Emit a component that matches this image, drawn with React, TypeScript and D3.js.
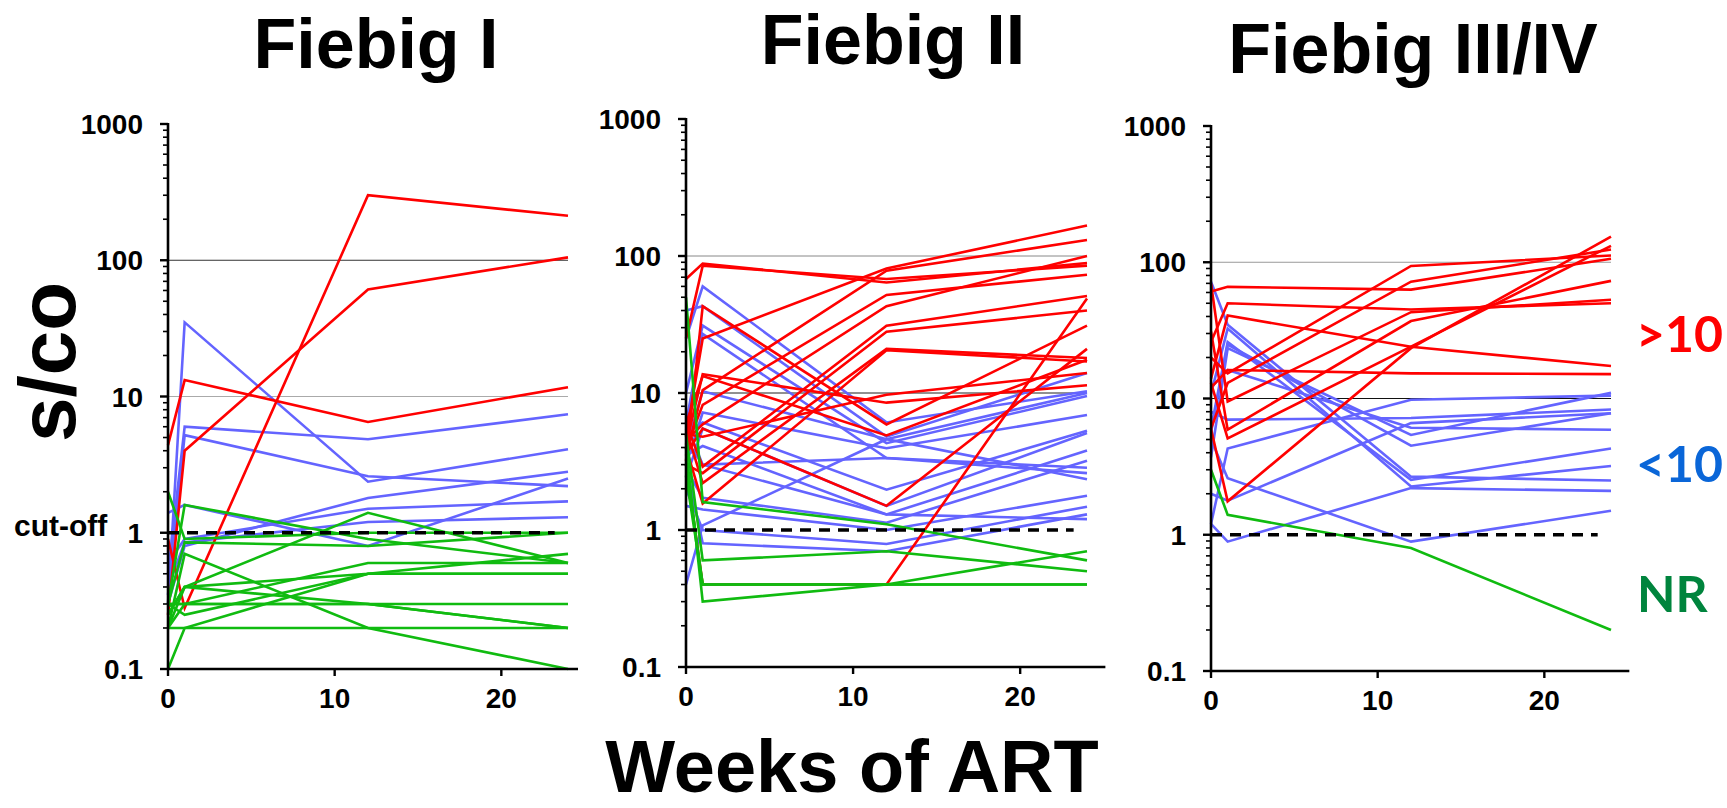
import React from "react";
import * as d3 from "d3";

// Sampling weeks after ART start
const WEEKS = [0, 1, 12, 24];

// Fiebig I: s/co per participant at weeks 0, 1, 12, 24
const fiebigIRed = [
  [0.9, 0.28, 300, 212],
  [0.25, 4.0, 61, 105],
  [4.4, 13.2, 6.5, 11.7],
];
const fiebigIBlue = [
  [0.3, 35, 2.37, 4.1],
  [0.5, 6.0, 4.85, 7.4],
  [0.35, 5.2, 2.6, 2.2],
  [1.4, 1.6, 0.8, 2.5],
  [0.3, 0.8, 1.8, 2.8],
  [0.6, 0.9, 1.5, 1.7],
  [0.4, 0.85, 1.2, 1.3],
];
const fiebigIGreen = [
  [2.0, 0.9, 1.0, 1.0],
  [0.3, 1.6, 0.9, 0.6],
  [0.25, 0.4, 1.4, 0.6],
  [0.3, 0.85, 0.8, 1.0],
  [0.2, 0.7, 0.2, 0.1],
  [0.2, 0.4, 0.5, 0.7],
  [0.3, 0.3, 0.6, 0.6],
  [0.25, 0.4, 0.3, 0.2],
  [0.2, 0.3, 0.3, 0.3],
  [0.1, 0.2, 0.5, 0.5],
  [0.3, 0.3, 0.3, 0.2],
  [0.2, 0.2, 0.2, 0.2],
  [0.3, 0.25, 0.5, 0.5],
];

// Fiebig II
const fiebigIIRed = [
  [68, 88, 64, 89],
  [25, 85, 68, 85],
  [4.8, 25, 81, 167],
  [3.5, 10.5, 78, 131],
  [3.9, 8.2, 52, 73],
  [4.5, 5.9, 43, 100],
  [6, 2.9, 31, 51],
  [3.0, 2.6, 28, 40],
  [5.5, 2.2, 21, 18],
  [4, 1.56, 20.5, 17],
  [3.2, 43, 5.9, 31],
  [6, 13.3, 4.9, 17.5],
  [5, 4.8, 9.7, 14],
  [4.2, 13.7, 8.5, 11.4],
  [3.6, 5.5, 1.5, 21],
  [3, 0.4, 0.4, 49],
];
const fiebigIIBlue = [
  [25, 60, 6.1, 10.3],
  [40, 43, 4.8, 14],
  [10, 31, 4.3, 9.5],
  [6, 27, 3.35, 2.6],
  [4, 10.3, 4.6, 10],
  [3, 7.2, 3.95, 6.9],
  [5, 6.1, 1.97, 5.3],
  [2.4, 5.5, 1.5, 5.1],
  [3.5, 4.1, 1.3, 3.8],
  [6, 3.0, 3.35, 2.85],
  [2.8, 1.72, 1.13, 3.2],
  [0.4, 1.08, 4.6, 2.35],
  [1.5, 1.41, 1.0, 1.78],
  [2, 1.0, 0.79, 1.48],
  [3, 0.8, 0.7, 1.3],
  [4.5, 3.0, 1.3, 1.2],
];
const fiebigIIGreen = [
  [50, 1.6, 1.1, 0.6],
  [5, 0.6, 0.7, 0.5],
  [3, 0.4, 0.4, 0.4],
  [4, 0.3, 0.4, 0.7],
  [2.5, 0.4, 0.4, 0.4],
];

// Fiebig III/IV
const fiebigIIIRed = [
  [61, 66, 63, 106],
  [26, 50, 45, 50],
  [14, 40.6, 24, 17.3],
  [12, 16.2, 15.3, 15.1],
  [20, 15.3, 94, 112],
  [6, 13, 72, 124],
  [70, 9.5, 43, 53],
  [31, 5.9, 37, 73],
  [13, 5.1, 24, 132],
  [6, 1.76, 23.4, 154],
];
const fiebigIIIBlue = [
  [72, 34.8, 2.67, 2.5],
  [10.8, 32.6, 2.26, 3.2],
  [5.6, 24.9, 4.5, 7.8],
  [3.7, 23.4, 5.4, 11],
  [12, 16.2, 6.1, 5.9],
  [8, 7.0, 7.2, 8.3],
  [1.2, 4.3, 9.8, 10.5],
  [2, 1.78, 6.6, 7.8],
  [5, 2.6, 0.89, 1.5],
  [1.2, 0.89, 2.2, 2.1],
  [6, 26, 2.53, 4.3],
];
const fiebigIIIGreen = [[3.0, 1.4, 0.8, 0.2]];

const PANEL_TITLES = ["Fiebig I", "Fiebig II", "Fiebig III/IV"];
const Y_TICKS = [0.1, 1, 10, 100, 1000];
const Y_TICK_LABELS = ["0.1", "1", "10", "100", "1000"];
const X_TICKS = [0, 10, 20];
const GROUP_LABELS = [">10", "<10", "NR"];

const RED = "#ff0000";
const BLUE = "#6464ff";
const GREEN = "#10bb10";
const FONT = "'Liberation Sans', Arial, sans-serif";

type Panel = {
  title: string;
  red: number[][];
  blue: number[][];
  green: number[][];
  x0: number;
  x24: number;
  axisEnd: number;
  yTop: number;
  yBot: number;
  titleX: number;
  titleY: number;
  grid100: string;
  grid10: string;
};

const panels: Panel[] = [
  {
    title: PANEL_TITLES[0], red: fiebigIRed, blue: fiebigIBlue, green: fiebigIGreen,
    x0: 168, x24: 568, axisEnd: 24.6, yTop: 124, yBot: 669, titleX: 376, titleY: 68,
    grid100: "#333", grid10: "#aaa",
  },
  {
    title: PANEL_TITLES[1], red: fiebigIIRed, blue: fiebigIIBlue, green: fiebigIIGreen,
    x0: 686, x24: 1087, axisEnd: 25.1, yTop: 119, yBot: 667, titleX: 893, titleY: 64,
    grid100: "#888", grid10: "#222",
  },
  {
    title: PANEL_TITLES[2], red: fiebigIIIRed, blue: fiebigIIIBlue, green: fiebigIIIGreen,
    x0: 1211, x24: 1611, axisEnd: 25.1, yTop: 126, yBot: 671, titleX: 1413, titleY: 73,
    grid100: "#999", grid10: "#111",
  },
];

function PanelView({ p }: { p: Panel }) {
  const x = d3.scaleLinear().domain([0, 24]).range([p.x0, p.x24]);
  const y = d3.scaleLog().domain([0.1, 1000]).range([p.yBot, p.yTop]);
  const line = d3
    .line<number>()
    .x((_, i) => x(WEEKS[i]))
    .y((v) => y(v));

  const minor: number[] = [];
  for (let e = -1; e < 3; e++) {
    for (let m = 2; m <= 9; m++) minor.push(m * Math.pow(10, e));
  }

  const series = (rows: number[][], color: string) =>
    rows.map((r, i) => (
      <path key={color + i} d={line(r) || ""} fill="none" stroke={color} strokeWidth={2.6} strokeLinejoin="miter" />
    ));

  return (
    <g>
      <text x={p.titleX} y={p.titleY} textAnchor="middle" fontFamily={FONT} fontWeight="bold" fontSize={70}>
        {p.title}
      </text>
      {/* reference gridlines */}
      <line x1={x(0)} x2={x(24)} y1={y(100)} y2={y(100)} stroke={p.grid100} strokeWidth={1} />
      <line x1={x(0)} x2={x(24)} y1={y(10)} y2={y(10)} stroke={p.grid10} strokeWidth={1} />
      {series(p.blue, BLUE)}
      {series(p.red, RED)}
      {series(p.green, GREEN)}
      {/* cut-off */}
      <line x1={x(0)} x2={x(23.2)} y1={y(1)} y2={y(1)} stroke="#000" strokeWidth={3.5} strokeDasharray="11 8" />
      {/* y axis */}
      <line x1={p.x0} x2={p.x0} y1={p.yTop - 1} y2={p.yBot + 1} stroke="#000" strokeWidth={2.6} />
      {Y_TICKS.map((t, i) => (
        <g key={"yt" + t}>
          <line x1={p.x0 - 8} x2={p.x0} y1={y(t)} y2={y(t)} stroke="#000" strokeWidth={2.4} />
          <text x={p.x0 - 25} y={y(t)} dy="0.36em" textAnchor="end" fontFamily={FONT} fontWeight="bold" fontSize={28}>
            {Y_TICK_LABELS[i]}
          </text>
        </g>
      ))}
      {minor.map((t) => (
        <line key={"ym" + t} x1={p.x0 - 5} x2={p.x0} y1={y(t)} y2={y(t)} stroke="#000" strokeWidth={1.6} />
      ))}
      {/* x axis */}
      <line x1={p.x0 - 1} x2={x(p.axisEnd)} y1={p.yBot} y2={p.yBot} stroke="#000" strokeWidth={2.6} />
      {X_TICKS.map((t) => (
        <g key={"xt" + t}>
          <line x1={x(t)} x2={x(t)} y1={p.yBot} y2={p.yBot + 7} stroke="#000" strokeWidth={2.4} />
          <text x={x(t)} y={p.yBot + 39} textAnchor="middle" fontFamily={FONT} fontWeight="bold" fontSize={28}>
            {t}
          </text>
        </g>
      ))}
    </g>
  );
}

export default function App() {
  return (
    <svg
      width={1727}
      height={808}
      viewBox="0 0 1727 808"
      style={{ position: "absolute", left: 0, top: 0, background: "#fff" }}
    >
      <rect width={1727} height={808} fill="#fff" />
      {panels.map((p) => (
        <PanelView key={p.title} p={p} />
      ))}
      <text
        transform="translate(75,362) rotate(-90)"
        textAnchor="middle"
        fontFamily={FONT}
        fontWeight="bold"
        fontSize={80}
      >
        s/co
      </text>
      <text x={14} y={536} fontFamily={FONT} fontWeight="bold" fontSize={30}>
        cut-off
      </text>
      <text x={852} y={792} textAnchor="middle" fontFamily={FONT} fontWeight="bold" fontSize={74}>
        Weeks of ART
      </text>
      <text x={1636} y={352} fontFamily="Lato, 'Open Sans', sans-serif" fontWeight="bold" fontSize={50} fill={RED}>
        {GROUP_LABELS[0]}
      </text>
      <text x={1636} y={482} fontFamily="Lato, 'Open Sans', sans-serif" fontWeight="bold" fontSize={50} fill="#0a66d8">
        {GROUP_LABELS[1]}
      </text>
      <text x={1637} y={612} fontFamily="Lato, 'Open Sans', sans-serif" fontWeight="bold" fontSize={50} fill="#00843d">
        {GROUP_LABELS[2]}
      </text>
    </svg>
  );
}
